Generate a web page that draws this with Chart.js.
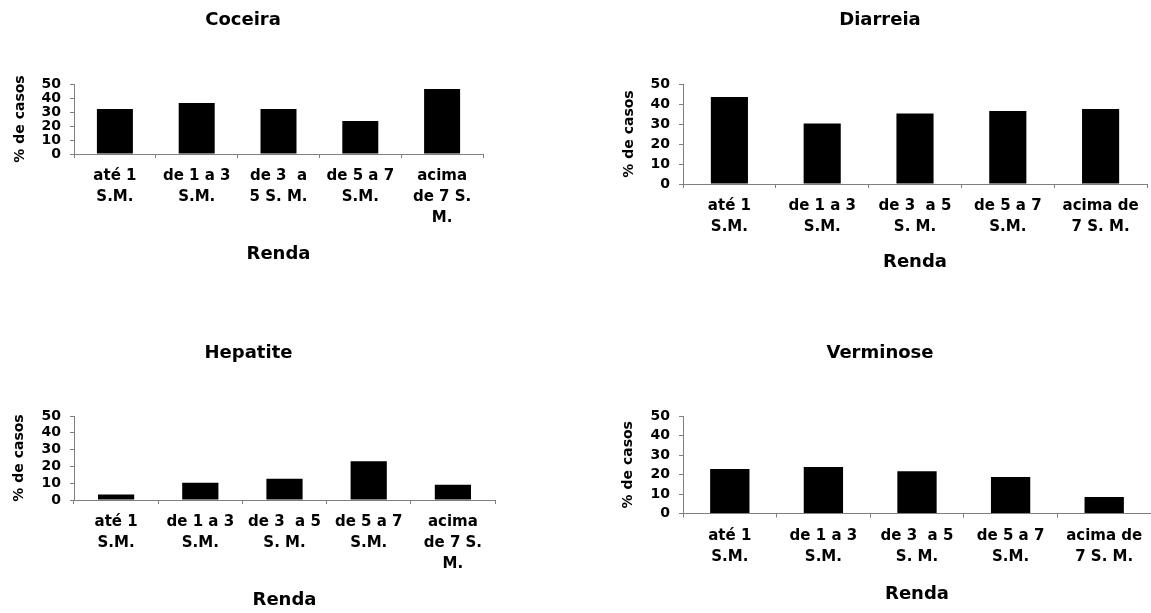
<!DOCTYPE html>
<html lang="pt">
<head>
<meta charset="utf-8">
<title>% de casos por renda</title>
<script src="https://cdn.jsdelivr.net/npm/chart.js@4/dist/chart.umd.min.js"></script>
<style>
  html, body { margin: 0; padding: 0; background: #fff; }
  body { width: 1151px; height: 613px; position: relative; overflow: hidden; }
  canvas { position: absolute; }
</style>
</head>
<body>
<canvas id="cCoceira"></canvas>
<canvas id="cDiarreia"></canvas>
<canvas id="cHepatite"></canvas>
<canvas id="cVerminose"></canvas>
<script>
// Faixas de renda (salários mínimos), quebradas em linhas como no eixo
const rendaLabels3 = [["até 1", "S.M."], ["de 1 a 3", "S.M."], ["de 3  a", "5 S. M."], ["de 5 a 7", "S.M."], ["acima", "de 7 S.", "M."]];
const rendaLabelsHep = [["até 1", "S.M."], ["de 1 a 3", "S.M."], ["de 3  a 5", "S. M."], ["de 5 a 7", "S.M."], ["acima", "de 7 S.", "M."]];
const rendaLabels2 = [["até 1", "S.M."], ["de 1 a 3", "S.M."], ["de 3  a 5", "S. M."], ["de 5 a 7", "S.M."], ["acima de", "7 S. M."]];

// % de casos por faixa de renda
const coceira = [32.1, 36.4, 32.1, 23.6, 46.4];
const diarreia = [43.5, 30.3, 35.3, 36.5, 37.5];
const hepatite = [3.3, 10.2, 12.7, 23.1, 9.1];
const verminose = [22.8, 23.8, 21.7, 18.7, 8.4];

// Eixo Y: 0 a 50, de 10 em 10
const yTickValues = [0, 10, 20, 30, 40, 50];

const FONT = "'DejaVu Sans', 'Liberation Sans', Arial, sans-serif";
const AXIS_GREY = '#7f7f7f';

Chart.defaults.color = '#000';
Chart.defaults.font.family = FONT;

function drawPanel(id, place, title, labels, values) {
  const canvas = document.getElementById(id);
  canvas.width = place.w;
  canvas.height = place.h;
  canvas.style.left = place.x + 'px';
  canvas.style.top = place.y + 'px';

  new Chart(canvas, {
    type: 'bar',
    data: {
      labels: labels,
      datasets: [{
        data: values,
        backgroundColor: '#000',
        borderWidth: 0,
        barPercentage: place.bar,
        categoryPercentage: 1
      }]
    },
    options: {
      responsive: false,
      animation: false,
      devicePixelRatio: 1,
      layout: { padding: { left: 0, right: place.padR, top: 0, bottom: 0 } },
      plugins: {
        legend: { display: false },
        tooltip: { enabled: false },
        title: {
          display: true,
          text: title,
          color: '#000',
          font: { family: FONT, weight: 'bold', size: 18, lineHeight: 1.2 },
          padding: { top: place.tTop, bottom: place.tBottom }
        }
      },
      scales: {
        x: {
          grid: {
            offset: true,
            drawOnChartArea: false,
            drawTicks: true,
            tickLength: 4,
            color: AXIS_GREY,
            lineWidth: 1
          },
          border: { display: true, color: AXIS_GREY, width: 1 },
          ticks: {
            autoSkip: false,
            maxRotation: 0,
            minRotation: 0,
            padding: 8,
            color: '#000',
            font: { family: FONT, weight: 'bold', size: 15, lineHeight: 1.4 }
          },
          title: {
            display: true,
            text: 'Renda',
            color: '#000',
            font: { family: FONT, weight: 'bold', size: 18, lineHeight: 1.2 },
            padding: { top: 0, bottom: 0 }
          },
          afterFit: (scale) => { scale.height = place.xH; }
        },
        y: {
          min: yTickValues[0],
          max: yTickValues[yTickValues.length - 1],
          afterBuildTicks: (scale) => {
            scale.ticks = yTickValues.map((v) => ({ value: v }));
          },
          grid: {
            drawOnChartArea: false,
            drawTicks: true,
            tickLength: 4,
            color: AXIS_GREY,
            lineWidth: 1
          },
          border: { display: true, color: AXIS_GREY, width: 1 },
          ticks: {
            autoSkip: false,
            padding: 9,
            color: '#000',
            font: { family: FONT, weight: 'bold', size: 14, lineHeight: 1.0 }
          },
          title: {
            display: true,
            text: '% de casos',
            color: '#000',
            font: { family: FONT, weight: 'bold', size: 14, lineHeight: 1.2 },
            padding: { top: place.yTitlePad, bottom: 0 }
          },
          afterFit: (scale) => { scale.width = place.yW; }
        }
      }
    }
  });
}

drawPanel('cCoceira',
  { x: 3, y: 0, w: 490, h: 265, padR: 10, yW: 71, xH: 111, tTop: 10, tBottom: 52.4, yTitlePad: 8.6, bar: 0.44 },
  'Coceira', rendaLabels3, coceira);

drawPanel('cDiarreia',
  { x: 613, y: 0, w: 544, h: 273, padR: 10, yW: 70, xH: 89, tTop: 10, tBottom: 52.4, yTitlePad: 7.6, bar: 0.40 },
  'Diarreia', rendaLabels2, diarreia);

drawPanel('cHepatite',
  { x: 2, y: 330, w: 503, h: 281, padR: 10, yW: 72, xH: 111, tTop: 12.9, tBottom: 51.5, yTitlePad: 9, bar: 0.43 },
  'Hepatite', rendaLabelsHep, hepatite);

drawPanel('cVerminose',
  { x: 609, y: 330, w: 552, h: 275, padR: 10, yW: 74, xH: 91.5, tTop: 12.9, tBottom: 51.5, yTitlePad: 11.3, bar: 0.42 },
  'Verminose', rendaLabels2, verminose);
</script>
</body>
</html>
